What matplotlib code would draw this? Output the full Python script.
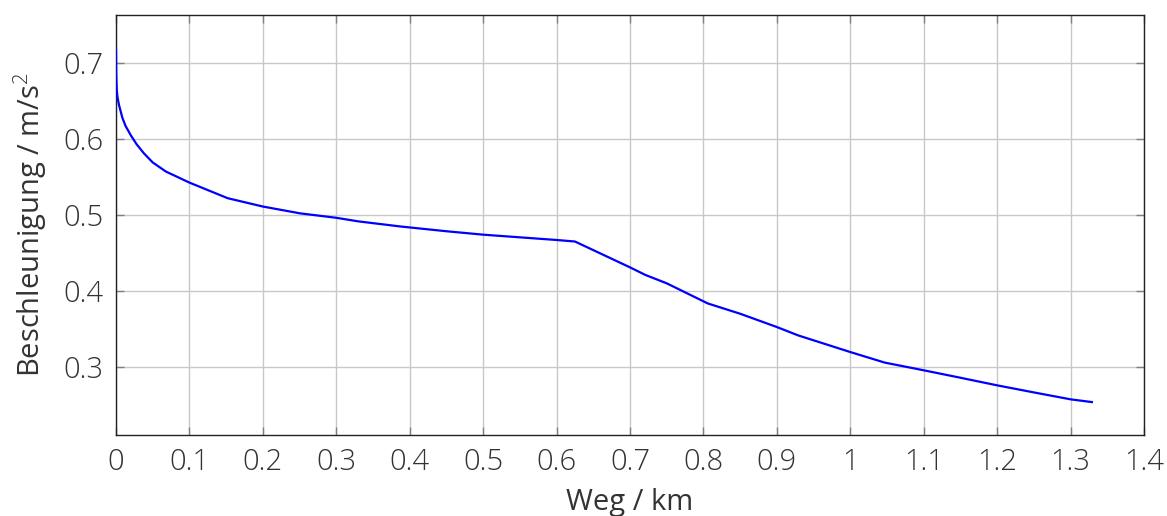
import matplotlib
matplotlib.use('Agg')
import matplotlib.pyplot as plt
import numpy as np

# distance (km) and acceleration (m/s^2)
weg = [0.0, 0.0003, 0.001, 0.002, 0.004, 0.0086, 0.013, 0.020, 0.028, 0.038,
       0.050, 0.068, 0.100, 0.152, 0.200,
       0.251, 0.300, 0.330, 0.388, 0.450, 0.500, 0.550, 0.600, 0.625,
       0.700, 0.721, 0.750, 0.806, 0.850, 0.900, 0.929, 1.000, 1.047,
       1.100, 1.150, 1.200, 1.250, 1.300, 1.329]
beschl = [0.7166, 0.685, 0.665, 0.655, 0.645, 0.628, 0.617, 0.605, 0.593, 0.581,
          0.569, 0.557, 0.5425, 0.522, 0.511,
          0.502, 0.4962, 0.4915, 0.4847, 0.4785, 0.474, 0.4705, 0.467, 0.465,
          0.431, 0.421, 0.410, 0.3835, 0.370, 0.3525, 0.3415, 0.3196, 0.3057,
          0.2956, 0.2858, 0.2758, 0.2665, 0.2574, 0.2538]

xticks = [0, 0.1, 0.2, 0.3, 0.4, 0.5, 0.6, 0.7, 0.8, 0.9, 1.0, 1.1, 1.2, 1.3, 1.4]
xticklabels = ['0', '0.1', '0.2', '0.3', '0.4', '0.5', '0.6', '0.7', '0.8', '0.9',
               '1', '1.1', '1.2', '1.3', '1.4']
yticks = [0.3, 0.4, 0.5, 0.6, 0.7]

plt.rcParams['font.family'] = ['Open Sans', 'DejaVu Sans']
plt.rcParams['font.weight'] = 'light'
plt.rcParams['mathtext.fontset'] = 'custom'
plt.rcParams['mathtext.rm'] = 'Open Sans:light'

fig = plt.figure(figsize=(11.67, 5.16), dpi=100)
ax = fig.add_axes([0.0994, 0.157, 0.8809, 0.814])

ax.plot(weg, beschl, color='#0000ff', lw=1.6, zorder=3)

ax.set_xlim(0, 1.4)
ax.set_ylim(0.2105, 0.7630)
ax.set_xticks(xticks)
ax.set_xticklabels(xticklabels)
ax.set_yticks(yticks)
ax.set_yticklabels(['0.3', '0.4', '0.5', '0.6', '0.7'])

ax.grid(True, color='#c8c8c8', lw=1.0)
ax.set_axisbelow(True)
ax.tick_params(direction='in', length=6, width=1, color='#808080',
               top=True, right=True, labelsize=21, labelcolor='#333333', pad=9)
for sp in ax.spines.values():
    sp.set_color('#222222')
    sp.set_linewidth(1.0)

ax.set_xlabel('Weg / km', fontsize=21, color='#333333', labelpad=8)
ax.set_ylabel('Beschleunigung / m/s$^2$', fontsize=21, color='#333333', labelpad=10)

fig.savefig('out.png', dpi=100)
